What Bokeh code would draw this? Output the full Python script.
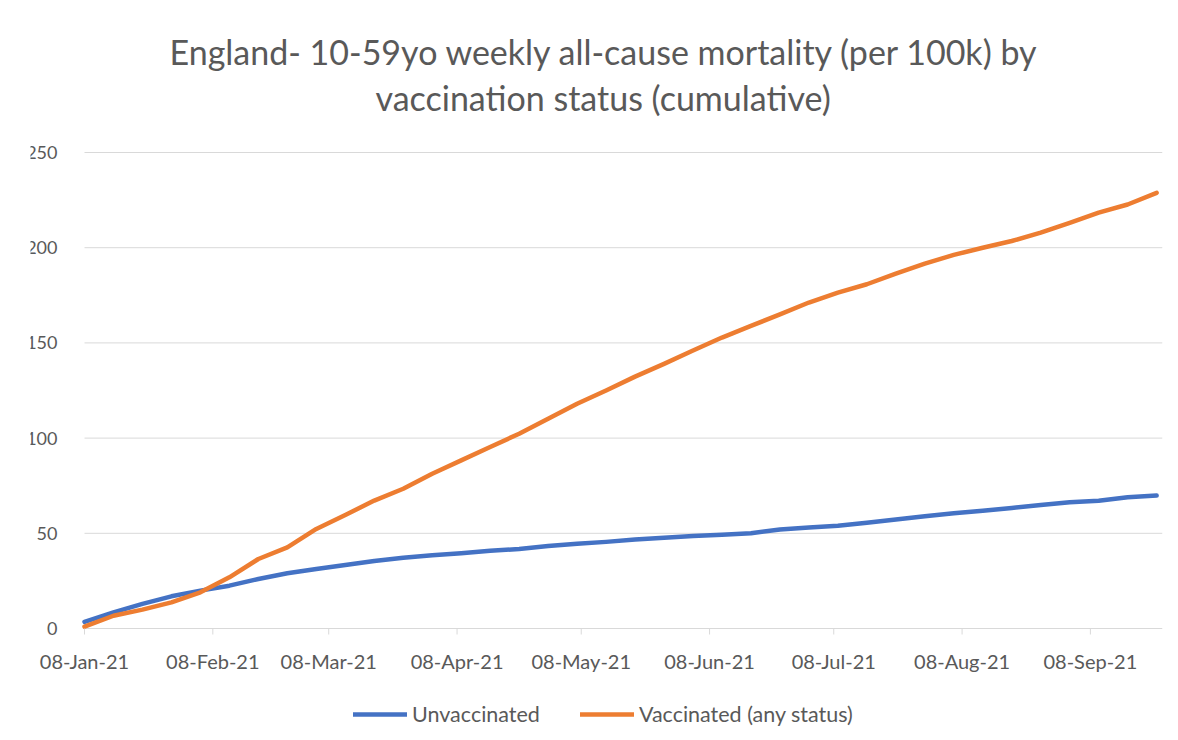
import pandas as pd
from datetime import datetime, timedelta
from bokeh.plotting import figure
from bokeh.models import Range1d, Legend, LegendItem, Title, ColumnDataSource
from bokeh.core.properties import value
from bokeh.embed import file_html
from bokeh.resources import INLINE

# ---- data ----
weeks = pd.date_range("2021-01-08", periods=38, freq="7D")
unvaccinated = [3.5, 8.5, 12.9, 16.9, 19.9, 22.5, 26.0, 29.0, 31.3, 33.4,
                35.5, 37.2, 38.5, 39.5, 40.8, 41.8, 43.3, 44.5, 45.5, 46.7,
                47.7, 48.6, 49.2, 50.0, 52.0, 53.0, 54.0, 55.5, 57.2, 59.0,
                60.5, 61.9, 63.3, 64.9, 66.3, 67.1, 68.9, 69.8]
vaccinated = [1.0, 6.7, 9.9, 13.7, 19.0, 26.9, 36.5, 42.6, 52.3, 59.6,
              67.2, 73.4, 81.3, 88.3, 95.3, 102.3, 110.1, 118.0, 125.0, 132.3,
              139.0, 146.0, 152.8, 158.9, 165.0, 171.2, 176.4, 180.8, 186.4, 191.6,
              196.2, 200.0, 203.5, 207.9, 213.1, 218.4, 222.7, 228.8]
tick_dates = ["2021-01-08", "2021-02-08", "2021-03-08", "2021-04-08", "2021-05-08",
              "2021-06-08", "2021-07-08", "2021-08-08", "2021-09-08"]
tick_labels = ["08-Jan-21", "08-Feb-21", "08-Mar-21", "08-Apr-21", "08-May-21",
               "08-Jun-21", "08-Jul-21", "08-Aug-21", "08-Sep-21"]
y_ticks = [0, 50, 100, 150, 200, 250]
y_labels = ["0", "50", "100", "150", "200", "250"]
series_names = ["Unvaccinated", "Vaccinated (any status)"]
series_colors = ["#4472C4", "#ED7D31"]
title_lines = ["England- 10-59yo weekly all-cause mortality (per 100k) by",
               "vaccination status (cumulative)"]

FONT = "Lato"
GREY = "#595959"
AXIS = "#D9D9D9"

x_first = datetime(2021, 1, 8)
x_last = datetime(2021, 9, 25, 10)

src = ColumnDataSource(dict(x=weeks, u=unvaccinated, v=vaccinated))
tick_x = [pd.Timestamp(d) for d in tick_dates]
tsrc = ColumnDataSource(dict(x=tick_x, y=[0] * len(tick_x),
                             y1=[-3.15] * len(tick_x), t=tick_labels))
gsrc = ColumnDataSource(dict(x0=[x_first] * len(y_ticks),
                             x1=[x_last] * len(y_ticks),
                             y=y_ticks, t=y_labels))

# the frame is wider/taller than the plotting area so that every axis text
# and the legend are drawn inside it
p = figure(frame_width=1132, frame_height=598, output_backend="svg",
           toolbar_location=None, x_axis_type="datetime",
           x_range=Range1d(x_first - timedelta(days=13.045), x_last),
           y_range=Range1d(-57.77, 256.3),
           min_border_left=30, min_border_right=8, min_border_top=140,
           min_border_bottom=2)
p.outline_line_color = None
p.background_fill_color = "white"
p.border_fill_color = "white"
p.xaxis.visible = False
p.yaxis.visible = False
p.xgrid.visible = False
p.ygrid.visible = False

# horizontal gridlines (the zero line doubles as the date axis line)
p.segment(x0="x0", y0="y", x1="x1", y1="y", source=gsrc, line_color=AXIS,
          line_width=1)
# value labels
p.text(x="x0", y="y", text="t", source=gsrc, text_font=value(FONT),
       text_font_size="18px", text_color=GREY, text_align="right",
       text_baseline="middle", x_offset=-27)

r1 = p.line("x", "u", source=src, line_color=series_colors[0], line_width=4.5,
            line_join="round", line_cap="round")
r2 = p.line("x", "v", source=src, line_color=series_colors[1], line_width=4.5,
            line_join="round", line_cap="round")

# date tick marks and labels
p.segment(x0="x", y0="y", x1="x", y1="y1", source=tsrc, line_color=AXIS,
          line_width=1)
p.text(x="x", y="y", text="t", source=tsrc, text_font=value(FONT),
       text_font_size="20px", text_color=GREY, text_align="center",
       text_baseline="middle", y_offset=32)

# title: spacer nearest the frame, then line 2, then line 1
p.add_layout(Title(text=" ", text_font_size="1px", standoff=18), "above")
p.add_layout(Title(text=title_lines[1], align="left", offset=345,
                   text_font=FONT, text_font_size="34px",
                   text_font_style="normal", text_color=GREY, standoff=2.5),
             "above")
p.add_layout(Title(text=title_lines[0], align="left", offset=139,
                   text_font=FONT, text_font_size="34px",
                   text_font_style="normal", text_color=GREY, standoff=2.5),
             "above")

legend = Legend(items=[LegendItem(label=series_names[0], renderers=[r1]),
                       LegendItem(label=series_names[1], renderers=[r2])],
                orientation="horizontal", location=(323, 11),
                label_text_font=FONT, label_text_font_size="21.5px",
                label_text_color=GREY, glyph_width=54, glyph_height=24,
                label_standoff=5, spacing=40, border_line_color=None,
                background_fill_alpha=0, margin=0, padding=0)
p.add_layout(legend, "center")

open("out.html", "w").write(file_html(p, INLINE))
